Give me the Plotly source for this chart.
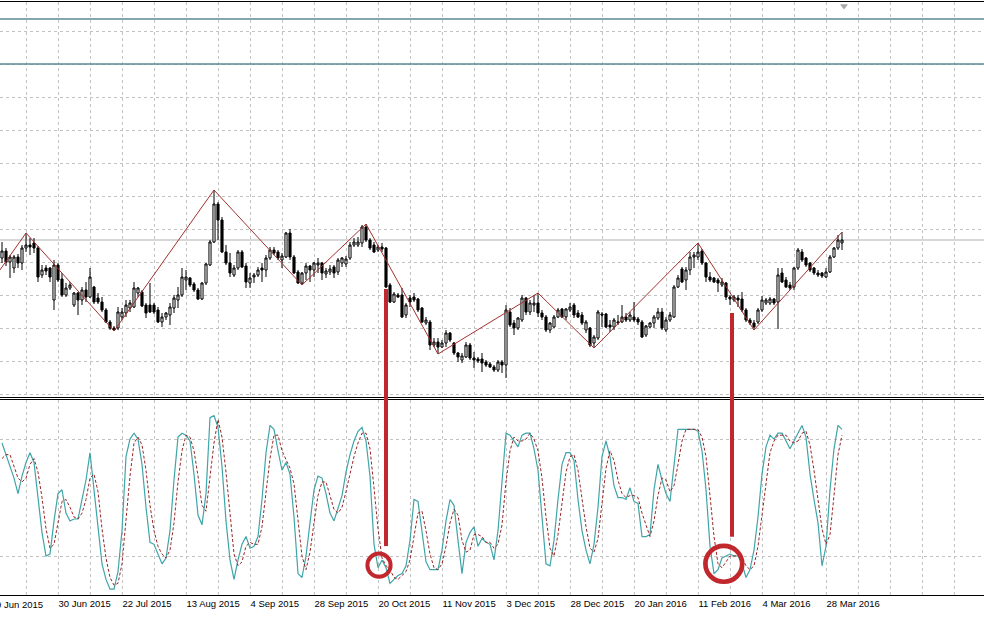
import plotly.graph_objects as go

# ---------------- data ----------------
open_ = [1.242,1.249,1.238,1.232,1.243,1.237,1.252,1.255,1.257,1.252,
1.225,1.232,1.232,1.200,1.235,1.221,1.205,1.212,1.195,1.207,
1.200,1.210,1.203,1.213,1.202,1.198,1.190,1.178,1.172,1.172,
1.183,1.187,1.192,1.193,1.207,1.208,1.195,1.195,1.195,1.190,
1.178,1.183,1.185,1.192,1.200,1.205,1.220,1.222,1.216,1.210,
1.201,1.217,1.235,1.258,1.296,1.280,1.248,1.237,1.225,1.232,
1.248,1.234,1.217,1.223,1.225,1.232,1.230,1.242,1.250,1.248,
1.240,1.243,1.267,1.243,1.228,1.217,1.227,1.234,1.230,1.235,
1.237,1.226,1.228,1.233,1.228,1.237,1.236,1.242,1.255,1.255,
1.257,1.273,1.260,1.255,1.250,1.253,1.252,1.215,1.198,1.205,
1.205,1.185,1.202,1.203,1.201,1.192,1.177,1.178,1.155,1.158,
1.153,1.157,1.167,1.157,1.147,1.140,1.143,1.155,1.142,1.141,
1.141,1.138,1.136,1.133,1.130,1.138,1.135,1.188,1.177,1.172,
1.180,1.202,1.188,1.195,1.197,1.187,1.183,1.170,1.173,1.183,
1.191,1.183,1.190,1.195,1.187,1.185,1.170,1.172,1.157,1.162,
1.186,1.186,1.175,1.173,1.177,1.178,1.183,1.180,1.183,1.181,
1.178,1.165,1.173,1.177,1.182,1.188,1.170,1.180,1.183,1.213,
1.231,1.220,1.230,1.243,1.243,1.249,1.237,1.223,1.222,1.220,
1.215,1.217,1.203,1.200,1.202,1.201,1.190,1.180,1.177,1.178,
1.190,1.197,1.197,1.201,1.198,1.227,1.220,1.215,1.213,1.232,
1.248,1.242,1.237,1.232,1.227,1.227,1.223,1.228,1.243,1.252,
1.257]

high = [1.258,1.252,1.245,1.245,1.246,1.255,1.267,1.262,1.262,1.254,
1.235,1.235,1.233,1.240,1.237,1.227,1.217,1.218,1.208,1.208,
1.213,1.218,1.232,1.214,1.207,1.203,1.192,1.180,1.174,1.193,
1.192,1.200,1.200,1.218,1.213,1.210,1.197,1.217,1.197,1.193,
1.187,1.188,1.197,1.205,1.213,1.232,1.230,1.223,1.218,1.212,
1.218,1.237,1.260,1.310,1.298,1.283,1.255,1.247,1.235,1.250,
1.250,1.237,1.227,1.227,1.233,1.237,1.245,1.253,1.253,1.250,
1.247,1.268,1.271,1.245,1.230,1.228,1.237,1.235,1.238,1.242,
1.238,1.232,1.235,1.235,1.242,1.243,1.244,1.258,1.262,1.263,
1.275,1.276,1.262,1.258,1.255,1.257,1.253,1.217,1.208,1.207,
1.212,1.197,1.205,1.207,1.202,1.193,1.183,1.180,1.162,1.162,
1.160,1.170,1.168,1.158,1.148,1.147,1.158,1.157,1.148,1.143,
1.147,1.140,1.138,1.135,1.140,1.140,1.195,1.192,1.180,1.183,
1.205,1.203,1.200,1.205,1.207,1.190,1.185,1.178,1.185,1.192,
1.192,1.192,1.197,1.197,1.190,1.188,1.180,1.173,1.165,1.190,
1.188,1.187,1.180,1.182,1.185,1.195,1.187,1.188,1.198,1.183,
1.180,1.175,1.178,1.185,1.192,1.192,1.183,1.188,1.215,1.225,
1.233,1.233,1.248,1.248,1.257,1.251,1.238,1.228,1.223,1.222,
1.222,1.218,1.205,1.205,1.205,1.208,1.192,1.182,1.180,1.192,
1.204,1.202,1.203,1.202,1.232,1.232,1.223,1.218,1.233,1.252,
1.251,1.243,1.238,1.233,1.230,1.228,1.232,1.245,1.253,1.265,
1.268]

low = [1.237,1.234,1.222,1.227,1.232,1.230,1.248,1.245,1.247,1.218,
1.222,1.225,1.218,1.190,1.218,1.203,1.203,1.210,1.193,1.185,
1.195,1.198,1.202,1.196,1.196,1.188,1.177,1.170,1.169,1.170,
1.180,1.183,1.188,1.192,1.203,1.193,1.182,1.187,1.186,1.177,
1.173,1.180,1.175,1.187,1.192,1.203,1.210,1.213,1.208,1.200,
1.200,1.215,1.234,1.257,1.260,1.247,1.235,1.223,1.223,1.230,
1.232,1.212,1.212,1.217,1.223,1.218,1.223,1.240,1.245,1.240,
1.232,1.242,1.240,1.226,1.216,1.215,1.220,1.218,1.223,1.227,
1.220,1.222,1.225,1.222,1.225,1.233,1.233,1.240,1.253,1.253,
1.253,1.258,1.250,1.247,1.248,1.248,1.212,1.197,1.197,1.202,
1.182,1.182,1.193,1.198,1.188,1.177,1.175,1.150,1.153,1.146,
1.152,1.153,1.158,1.145,1.138,1.137,1.142,1.140,1.132,1.137,
1.128,1.133,1.132,1.128,1.128,1.127,1.122,1.173,1.165,1.170,
1.178,1.185,1.185,1.188,1.183,1.180,1.168,1.167,1.172,1.182,
1.182,1.180,1.188,1.182,1.182,1.175,1.167,1.153,1.152,1.160,
1.173,1.172,1.168,1.170,1.175,1.177,1.178,1.178,1.178,1.175,
1.162,1.163,1.172,1.172,1.180,1.170,1.168,1.178,1.182,1.212,
1.217,1.210,1.225,1.232,1.240,1.235,1.218,1.218,1.217,1.208,
1.213,1.200,1.195,1.198,1.193,1.188,1.178,1.175,1.170,1.176,
1.188,1.195,1.195,1.195,1.171,1.217,1.212,1.210,1.210,1.230,
1.238,1.233,1.228,1.225,1.223,1.222,1.222,1.227,1.242,1.250,
1.250]

close = [1.249,1.238,1.243,1.243,1.237,1.252,1.255,1.253,1.252,1.223,
1.230,1.229,1.223,1.235,1.220,1.205,1.212,1.215,1.207,1.200,
1.210,1.203,1.223,1.198,1.198,1.190,1.178,1.172,1.170,1.188,
1.188,1.195,1.197,1.212,1.212,1.194,1.187,1.188,1.188,1.178,
1.183,1.187,1.193,1.202,1.205,1.223,1.223,1.215,1.210,1.201,
1.217,1.236,1.258,1.296,1.280,1.248,1.237,1.227,1.232,1.248,
1.233,1.218,1.222,1.225,1.230,1.230,1.242,1.250,1.247,1.242,
1.244,1.267,1.243,1.227,1.217,1.227,1.234,1.230,1.237,1.237,
1.227,1.229,1.231,1.227,1.240,1.242,1.241,1.255,1.258,1.258,
1.273,1.260,1.252,1.248,1.253,1.251,1.213,1.198,1.206,1.203,
1.183,1.195,1.198,1.200,1.190,1.178,1.180,1.155,1.158,1.153,
1.157,1.167,1.160,1.147,1.143,1.144,1.155,1.142,1.140,1.139,
1.137,1.135,1.133,1.130,1.138,1.135,1.190,1.175,1.172,1.182,
1.202,1.188,1.197,1.197,1.187,1.183,1.170,1.177,1.183,1.190,
1.183,1.191,1.193,1.185,1.183,1.177,1.178,1.155,1.163,1.188,
1.185,1.173,1.173,1.180,1.178,1.183,1.180,1.185,1.180,1.178,
1.163,1.174,1.177,1.183,1.188,1.172,1.180,1.185,1.213,1.222,
1.218,1.230,1.243,1.245,1.248,1.237,1.223,1.220,1.218,1.217,
1.218,1.203,1.201,1.203,1.200,1.190,1.180,1.177,1.173,1.190,
1.200,1.200,1.201,1.197,1.225,1.218,1.213,1.212,1.232,1.250,
1.240,1.235,1.230,1.227,1.225,1.224,1.228,1.243,1.252,1.260,
1.260]

stoch_k = [78,72,67,60,52,61,68,73,68,49,
32,20,21,38,52,54,42,38,39,39,
49,59,73,54,33,16,8,3,3,12,
33,71,80,83,80,67,45,27,26,21,
16,19,33,59,81,83,82,79,62,41,
36,52,91,92,86,66,38,18,8,18,
26,30,24,25,30,49,73,87,85,74,
64,68,62,40,11,9,20,37,54,61,
60,52,42,38,45,51,63,72,79,84,
86,79,61,26,14,18,14,6,8,10,
11,15,28,49,48,33,17,13,13,13,
23,38,49,46,28,11,27,32,35,25,
29,27,26,18,33,57,83,82,79,76,
82,83,83,75,64,40,16,15,28,49,
67,73,73,69,49,33,23,16,26,45,
71,79,71,56,50,50,49,55,48,47,
30,30,31,54,67,59,52,48,67,85,
85,85,85,85,84,74,54,25,11,13,
19,20,21,20,20,16,9,13,23,40,
62,76,82,80,83,83,79,75,79,83,
87,81,62,49,37,15,25,54,75,87,
85]

stoch_d = [70,72,72,66,60,58,60,67,70,63,
50,34,24,26,37,48,49,45,40,39,
42,49,60,62,53,34,19,9,5,6,
16,39,61,78,81,77,64,46,33,25,
21,19,23,37,58,74,82,81,74,61,
46,43,60,78,90,81,63,41,21,15,
17,25,27,26,26,35,51,70,82,82,
74,69,65,57,38,20,13,22,37,51,
58,58,51,44,42,45,53,62,71,78,
83,83,75,55,34,19,15,13,9,8,
10,12,18,31,42,43,33,21,14,13,
16,25,37,44,41,28,22,23,31,31,
30,27,27,24,26,36,58,74,81,79,
79,80,83,80,74,60,40,24,20,31,
48,63,71,72,64,50,35,24,22,29,
47,65,74,69,59,52,50,51,51,50,
42,36,30,38,51,60,59,53,56,67,
79,85,85,85,85,81,71,51,30,16,
14,17,20,20,20,19,15,13,15,25,
42,59,73,79,82,82,82,79,78,79,
83,84,77,64,49,34,26,31,51,72,
82]

# date labels (bar index -> label)
tick_bars = [-2, 14, 30, 46, 62, 78, 94, 110, 126, 142, 158, 174, 190, 206]
tick_labels = ["9 Jun 2015", "30 Jun 2015", "22 Jul 2015", "13 Aug 2015", "4 Sep 2015",
               "28 Sep 2015", "20 Oct 2015", "11 Nov 2015", "3 Dec 2015", "28 Dec 2015",
               "20 Jan 2016", "11 Feb 2016", "4 Mar 2016", "28 Mar 2016"]

# zigzag pivots: bar indices, alternating swing high / swing low
zigzag_bars = [6, 28, 53, 75, 91, 109, 134, 148, 174, 188, 210]
zigzag_prior = (-6, 1.199)   # previous swing low, left of the window (estimated)

price_levels = [1.481, 1.436]  # horizontal lines drawn on the chart
stoch_levels = [20, 80]

# analyst's hand-drawn marks
mark_lines = [(96, 1.211, 25.1), (182.5, 1.187, 29.9)]          # bar, price top, stoch bottom
mark_circles = [(94.25, 15.3, 2.9, 5.95, 4.0), (180.45, 16.0, 4.6, 9.2, 4.7)]  # bar, stoch, rx, ry, width

# ---------------- figure ----------------
bars = list(range(len(close)))
X_RANGE = [-0.5, 245.5]
Y_RANGE = [1.103, 1.4985]
S_RANGE = [0, 100.3]
TOP_DOMAIN = [1 - 397 / 618, 1 - 1.5 / 618]
LOW_DOMAIN = [1 - 595 / 618, 1 - 399.5 / 618]
GRID = "#c2c2c2"
GDASH = "3px,3px"
RED = "#c0282e"

zz_x = [zigzag_prior[0]] + zigzag_bars
zz_y = [zigzag_prior[1]] + [high[b] if k % 2 == 0 else low[b] for k, b in enumerate(zigzag_bars)]

fig = go.Figure()
fig.add_trace(go.Candlestick(
    x=bars, open=open_, high=high, low=low, close=close,
    increasing=dict(line=dict(color="black", width=1), fillcolor="white"),
    decreasing=dict(line=dict(color="black", width=1), fillcolor="black"),
    whiskerwidth=0, showlegend=False, hoverinfo="skip", xaxis="x", yaxis="y"))
fig.add_trace(go.Scatter(x=zz_x, y=zz_y, mode="lines",
                         line=dict(color="#a3302d", width=1), hoverinfo="skip",
                         xaxis="x", yaxis="y"))
# chart-shift marker
fig.add_trace(go.Scatter(x=[len(close) - 0.5], y=[Y_RANGE[1] - 0.0045], mode="markers",
                         marker=dict(symbol="triangle-down", size=7, color="#a8a8a8"),
                         hoverinfo="skip", cliponaxis=False, xaxis="x", yaxis="y"))
fig.add_trace(go.Scatter(x=bars, y=stoch_k, mode="lines",
                         line=dict(color="#3fa5a8", width=1.2), hoverinfo="skip",
                         xaxis="x2", yaxis="y2"))
fig.add_trace(go.Scatter(x=bars, y=stoch_d, mode="lines",
                         line=dict(color="#9a2525", width=1, dash="3px,2px"), hoverinfo="skip",
                         xaxis="x2", yaxis="y2"))

shapes = []
for lv in price_levels:
    shapes.append(dict(type="line", xref="x domain", yref="y", x0=0, x1=1, y0=lv, y1=lv,
                       line=dict(color="#5a8a94", width=1.3)))
shapes.append(dict(type="line", xref="x domain", yref="y", x0=0, x1=1, y0=close[-1], y1=close[-1],
                   line=dict(color="#b0b0b0", width=1), layer="below"))
for b, ptop, sbot in mark_lines:
    shapes.append(dict(type="line", xref="x", yref="y", x0=b, x1=b, y0=ptop, y1=Y_RANGE[0] - 0.05,
                       line=dict(color=RED, width=4)))
    shapes.append(dict(type="line", xref="x2", yref="y2", x0=b, x1=b, y0=sbot, y1=S_RANGE[1] + 20,
                       line=dict(color=RED, width=4)))
    # bridge across the separator between the two panes
    shapes.append(dict(type="line", xref="x", yref="paper", x0=b, x1=b,
                       y0=LOW_DOMAIN[1] - 0.003, y1=TOP_DOMAIN[0] + 0.003,
                       line=dict(color=RED, width=4)))
for b, s, rx, ry, w in mark_circles:
    shapes.append(dict(type="circle", xref="x2", yref="y2", x0=b - rx, x1=b + rx, y0=s - ry, y1=s + ry,
                       line=dict(color=RED, width=w)))

grid_bars = list(range(6, int(X_RANGE[1]) + 1, 8))
lab = dict(zip(tick_bars, tick_labels))
grid_text = [lab.get(g, "") for g in grid_bars]

FONT = "Liberation Sans, Arial, sans-serif"
FSIZE = 9.5

ax_common = dict(range=X_RANGE, showgrid=True, gridcolor=GRID, griddash=GDASH, gridwidth=1,
                 showline=True, linecolor="black", linewidth=1, mirror=True, zeroline=False,
                 fixedrange=True, tickmode="array", tickvals=grid_bars, automargin=False)

# label cut at the left edge (its bar lies left of the window)
x_frac = (tick_bars[0] - X_RANGE[0]) / (X_RANGE[1] - X_RANGE[0])

fig.update_layout(
    width=984, height=618, margin=dict(l=0, r=0, t=0, b=0, autoexpand=False),
    paper_bgcolor="white", plot_bgcolor="white", showlegend=False, hovermode=False,
    boxgap=0.25,
    font=dict(family=FONT, size=FSIZE, color="black"),
    xaxis=dict(domain=[0, 1], anchor="y", showticklabels=False, ticks="",
               rangeslider=dict(visible=False), **ax_common),
    xaxis2=dict(domain=[0, 1], anchor="y2", matches="x", ticktext=grid_text, ticks="",
                tickangle=0, ticklabelposition="outside right",
                tickfont=dict(family=FONT, size=FSIZE, color="black"),
                rangeslider=dict(visible=False), **ax_common),
    yaxis=dict(domain=TOP_DOMAIN, range=Y_RANGE, anchor="x",
               tickmode="array", tickvals=[round(1.106 + 0.033 * k, 3) for k in range(12)],
               showticklabels=False, ticks="", showgrid=True, gridcolor=GRID, griddash=GDASH,
               zeroline=False, showline=False, fixedrange=True, automargin=False),
    yaxis2=dict(domain=LOW_DOMAIN, range=S_RANGE, anchor="x2",
                tickmode="array", tickvals=stoch_levels, showticklabels=False, ticks="",
                showgrid=True, gridcolor=GRID, griddash=GDASH, zeroline=False,
                showline=False, fixedrange=True, automargin=False),
    shapes=shapes,
    annotations=[dict(text=tick_labels[0], xref="x2 domain", yref="y2 domain",
                      x=x_frac, y=0, xanchor="left", yanchor="top", yshift=-2,
                      showarrow=False, font=dict(family=FONT, size=FSIZE, color="black"))],
)

fig.write_html("out.html", config={"displayModeBar": False, "staticPlot": False},
               post_script="document.body.style.margin='0px';document.body.style.overflow='hidden';")
